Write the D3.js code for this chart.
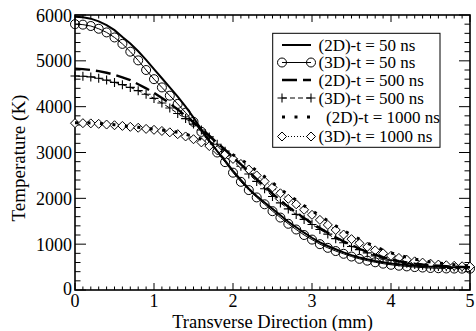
<!DOCTYPE html>
<html><head><meta charset="utf-8">
<script src="https://cdn.jsdelivr.net/npm/d3@7"></script>
<style>body{margin:0;background:#fff}svg{display:block}</style>
</head><body><svg id="c" width="476" height="331"></svg>
<script>
const xs = [0,0.1,0.2,0.3,0.4,0.5,0.6,0.7,0.8,0.9,1,1.1,1.2,1.3,1.4,1.5,1.6,1.7,1.8,1.9,2,2.1,2.2,2.3,2.4,2.5,2.6,2.7,2.8,2.9,3,3.1,3.2,3.3,3.4,3.5,3.6,3.7,3.8,3.9,4,4.1,4.2,4.3,4.4,4.5,4.6,4.7,4.8,4.9,5];
const t50_2D = [5960,5950,5920,5860,5780,5670,5520,5380,5210,5020,4820,4620,4420,4220,4000,3760,3500,3260,3030,2820,2600,2400,2210,2050,1910,1770,1630,1490,1370,1250,1140,1040,960,890,820,760,710,670,635,605,580,560,545,530,520,510,505,500,497,495,493];
const t50_3D = [5800,5790,5760,5700,5620,5510,5370,5200,5010,4800,4600,4420,4240,4060,3870,3670,3450,3220,3000,2790,2560,2360,2180,2020,1870,1720,1580,1445,1320,1200,1100,1000,920,850,790,730,680,640,605,575,550,530,515,500,490,480,475,470,468,466,465];
const t500_2D = [4830,4820,4800,4775,4740,4695,4640,4580,4490,4400,4300,4190,4070,3940,3800,3660,3520,3370,3210,3060,2900,2740,2580,2420,2260,2100,1955,1815,1690,1570,1460,1350,1250,1150,1060,980,900,830,770,715,670,630,600,575,555,540,528,518,510,505,500];
const t500_3D = [4670,4665,4650,4620,4580,4530,4480,4420,4350,4270,4180,4080,3970,3850,3740,3620,3490,3340,3180,3030,2870,2700,2530,2370,2210,2040,1900,1770,1650,1540,1430,1320,1220,1120,1030,950,880,810,745,695,650,612,582,557,540,525,515,505,500,495,492];
const t1000_2D = [3650,3650,3645,3635,3620,3605,3585,3570,3550,3525,3510,3490,3470,3440,3400,3350,3290,3220,3140,3050,2950,2850,2730,2600,2470,2340,2200,2080,1960,1840,1730,1620,1510,1400,1300,1200,1110,1025,945,875,810,760,715,675,640,610,588,568,552,538,527];
const t1000_3D = [3640,3640,3635,3625,3610,3595,3580,3560,3540,3515,3495,3470,3440,3400,3350,3290,3220,3140,3050,2960,2860,2750,2630,2500,2370,2240,2110,1990,1870,1750,1640,1530,1420,1310,1210,1110,1020,940,865,800,745,700,660,625,598,575,555,540,528,518,510];
const xTicks = [0,1,2,3,4,5];
const yTicks = [0,1000,2000,3000,4000,5000,6000];
const legendLabels = ["(2D)-t = 50 ns","(3D)-t = 50 ns","(2D)-t = 500 ns","(3D)-t = 500 ns","(2D)-t = 1000 ns","(3D)-t = 1000 ns"];

const FONT = "Liberation Serif, Times New Roman, DejaVu Serif, serif";
const svg = d3.select("#c");
const L=75,R=470,T=15,B=290;
const x = d3.scaleLinear().domain([0,5]).range([L,R]);
const y = d3.scaleLinear().domain([0,6000]).range([B,T]);
const line = d3.line().x((d,i)=>x(xs[i])).y(d=>y(d));

svg.append("rect").attr("x",L).attr("y",T).attr("width",R-L).attr("height",B-T)
  .attr("fill","none").attr("stroke","#000").attr("stroke-width",1.6);

const g = svg.append("g").attr("stroke","#000").attr("stroke-width",1);
d3.range(0,51).forEach(i=>{
  const v=i/10, major = i%10===0, len = major?7:3.5;
  const px=x(v);
  g.append("line").attr("x1",px).attr("x2",px).attr("y1",B).attr("y2",B-len);
  g.append("line").attr("x1",px).attr("x2",px).attr("y1",T).attr("y2",T+len);
});
d3.range(0,31).forEach(i=>{
  const v=i*200, major = i%5===0, len = major?11:5.5;
  const py=y(v);
  g.append("line").attr("y1",py).attr("y2",py).attr("x1",L).attr("x2",L+len);
  g.append("line").attr("y1",py).attr("y2",py).attr("x1",R).attr("x2",R-len);
});
function txt(){ return svg.append("text").attr("font-family",FONT).attr("fill","#000"); }
xTicks.forEach(v=>txt().attr("x",x(v)).attr("y",B+16.5).attr("text-anchor","middle").attr("font-size",18).text(v));
yTicks.forEach(v=>txt().attr("x",L-3).attr("y",y(v)+(v===0?5:6.5)).attr("text-anchor","end").attr("font-size",18).text(v));
txt().attr("x",(L+R)/2).attr("y",328).attr("text-anchor","middle").attr("font-size",18.5).text("Transverse Direction (mm)");
txt().attr("transform",`translate(25,158) rotate(-90)`).attr("text-anchor","middle").attr("font-size",19).text("Temperature (K)");

const plot = svg.append("g");
function path(data, sw, dash){
  const p = plot.append("path").attr("d",line(data)).attr("fill","none").attr("stroke","#000").attr("stroke-width",sw);
  if(dash) p.attr("stroke-dasharray",dash);
  return p;
}
function marker(gg, type, cx, cy){
  if(type==="circle") gg.append("circle").attr("cx",cx).attr("cy",cy).attr("r",4.5).attr("fill","none").attr("stroke","#000").attr("stroke-width",1);
  else if(type==="plus") gg.append("path").attr("d",`M${cx-4.5},${cy}H${cx+4.5}M${cx},${cy-4.5}V${cy+4.5}`).attr("stroke","#000").attr("stroke-width",1.1);
  else if(type==="diamond") gg.append("path").attr("d",`M${cx},${cy-4.5}L${cx+4.5},${cy}L${cx},${cy+4.5}L${cx-4.5},${cy}Z`).attr("fill","#fff").attr("stroke","#000").attr("stroke-width",1);
}
path(t50_3D,1);
path(t500_3D,1,"5,3");
path(t1000_3D,1,"1,2");
const mk = plot.append("g");
t50_3D.forEach((d,i)=>marker(mk,"circle",x(xs[i]),y(d)));
t500_3D.forEach((d,i)=>marker(mk,"plus",x(xs[i]),y(d)));
t1000_3D.forEach((d,i)=>marker(mk,"diamond",x(xs[i]),y(d)));
path(t50_2D,2);
path(t500_2D,2.4,"15,6");
path(t1000_2D,3,"3,9.5");

const lg = svg.append("g");
lg.append("rect").attr("x",272.7).attr("y",33.3).attr("width",167.3).attr("height",114).attr("fill","#fff").attr("stroke","#000").attr("stroke-width",1);
const ly=[45,62.5,80,98,117,136.5];
const sx1=282, sx2=311;
const spec=[{sw:2,dash:null,m:null},{sw:1,dash:null,m:"circle"},{sw:2.4,dash:"15,6",m:null},{sw:1,dash:"5,3",m:"plus"},{sw:3,dash:"3,9.5",m:null},{sw:1,dash:"1,2",m:"diamond"}];
legendLabels.forEach((lab,i)=>{
  const s=spec[i];
  const ln=lg.append("line").attr("x1",sx1).attr("x2",sx2).attr("y1",ly[i]).attr("y2",ly[i]).attr("stroke","#000").attr("stroke-width",s.sw);
  if(s.dash) ln.attr("stroke-dasharray",s.dash);
  if(s.m){ marker(lg,s.m,sx1,ly[i]); marker(lg,s.m,sx2,ly[i]); }
  lg.append("text").attr("font-family",FONT).attr("x", i===4?326:318.5).attr("y",ly[i]+5.5).attr("font-size",17).text(lab);
});
</script></body></html>
